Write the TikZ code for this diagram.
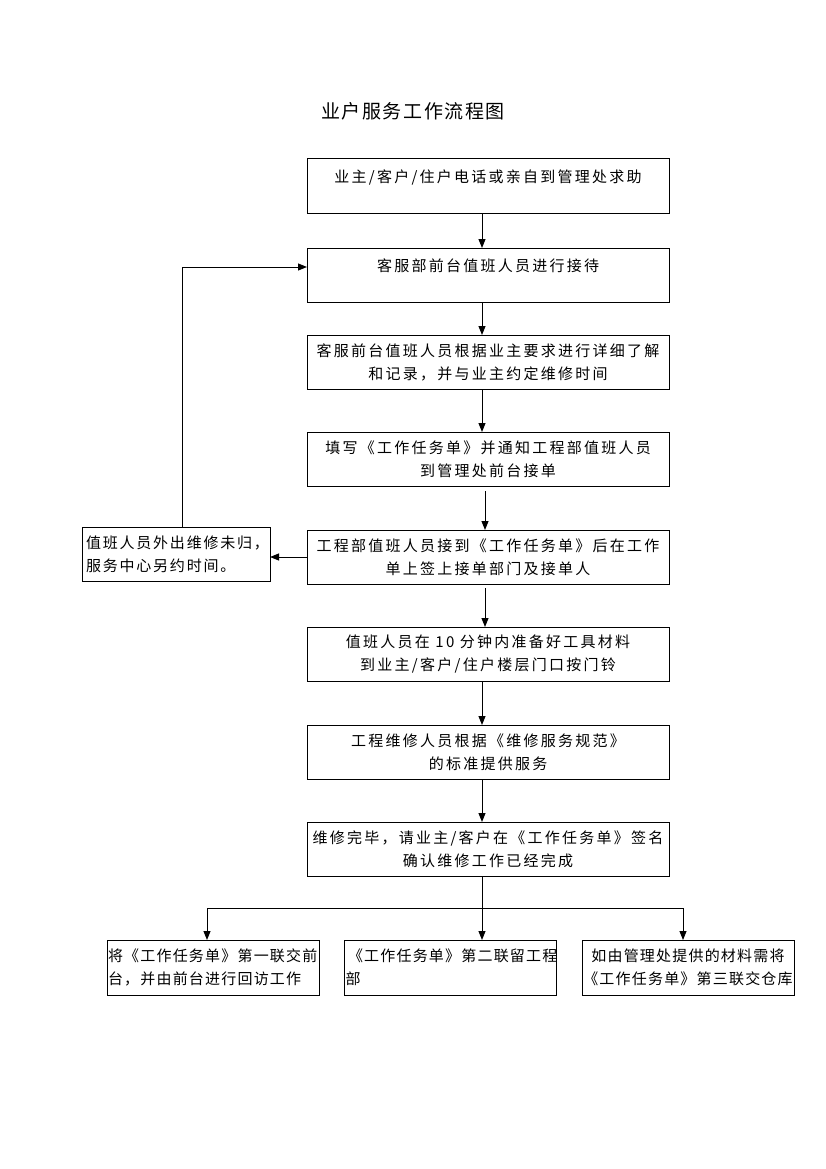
\documentclass[tikz,border=0pt]{standalone}
\usepackage{fontspec}
\setmainfont{Noto Sans CJK SC}
\usetikzlibrary{arrows.meta}
\begin{document}
\begin{tikzpicture}[x=1pt,y=-1pt,
  every node/.style={inner sep=0pt,outer sep=0pt},
  mainbox/.style={draw,line width=1pt,minimum width=362pt,minimum height=54pt,align=center,
    font=\fontsize{15}{23}\selectfont\addfontfeature{LetterSpace=15}},
  sidebox/.style={draw,line width=1pt,minimum width=188pt,minimum height=54pt,align=left,text width=180pt,
    font=\fontsize{15}{23}\selectfont\addfontfeature{LetterSpace=12}},
  botbox/.style={draw,line width=1pt,minimum width=212pt,minimum height=55pt,text width=210pt,
    font=\fontsize{15}{23}\selectfont\addfontfeature{LetterSpace=8}},
  arr/.style={line width=1pt,-{Triangle[length=9pt,width=7pt]}},
  ln/.style={line width=1pt}]
\useasboundingbox (0,0) rectangle (826,1169);
\node[font=\fontsize{19}{23}\selectfont\addfontfeature{LetterSpace=8}] (title) at (413,111) {业户服务工作流程图};
\node[mainbox] (b1) at (488,186) {业主/客户/住户电话或亲自到管理处求助\\[-10pt] \strut};
\node[mainbox] (b2) at (488,275) {客服部前台值班人员进行接待\\[-10pt] \strut};
\node[mainbox] (b3) at (488,362) {客服前台值班人员根据业主要求进行详细了解\\和记录，并与业主约定维修时间};
\node[mainbox] (b4) at (488,459) {填写《工作任务单》并通知工程部值班人员\\到管理处前台接单};
\node[mainbox] (b5) at (488,557) {工程部值班人员接到《工作任务单》后在工作\\单上签上接单部门及接单人};
\node[sidebox] (s) at (176,554) {值班人员外出维修未归，\\服务中心另约时间。};
\node[mainbox] (b6) at (488,654) {值班人员在 10 分钟内准备好工具材料\\到业主/客户/住户楼层门口按门铃};
\node[mainbox] (b7) at (488,752) {工程维修人员根据《维修服务规范》\\的标准提供服务};
\node[mainbox] (b8) at (488,849) {维修完毕，请业主/客户在《工作任务单》签名\\确认维修工作已经完成};
\node[botbox,align=left] (c1) at (213,967.5) {将《工作任务单》第一联交前\\台，并由前台进行回访工作};
\node[botbox,align=left] (c2) at (450.5,967.5) {\,《工作任务单》第二联留工程\\部};
\node[botbox,align=center] (c3) at (688,967.5) {如由管理处提供的材料需将\\《工作任务单》第三联交仓库};
\coordinate (j) at (482,908);
\draw[arr] (482,213) -- (482,248);
\draw[arr] (482,302) -- (482,335);
\draw[arr] (482,389) -- (482,432);
\draw[arr] (485,491) -- (485,530);
\draw[arr] (485,588) -- (485,627);
\draw[arr] (482,681) -- (482,725);
\draw[arr] (482,779) -- (482,822);
\draw[arr] (b5.west) -- (b5.west -| s.east);
\draw[arr] (182,527) -- (182,267) -- (307,267);
\draw[ln] (482,876) -- (j);
\draw[ln] (207,908) -- (683,908);
\draw[arr] (207,908) -- (207,940);
\draw[arr] (j) -- (482,940);
\draw[arr] (683,908) -- (683,940);
\end{tikzpicture}
\end{document}
